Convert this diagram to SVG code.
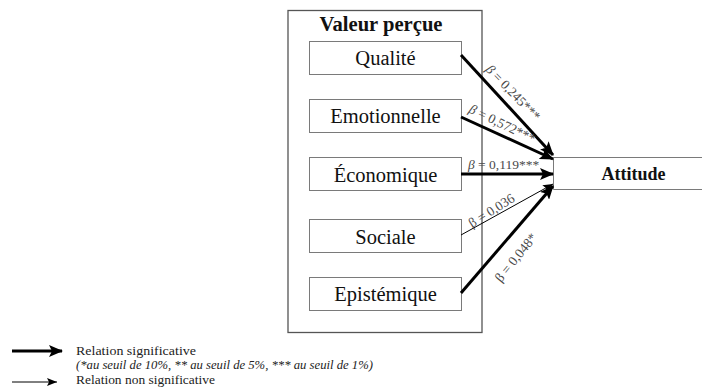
<svg xmlns="http://www.w3.org/2000/svg" width="702" height="387" viewBox="0 0 702 387">
<style>
.box{fill:#fff;stroke:#7a7a7a;stroke-width:1}
.lbl{font-size:20.5px;fill:#111;text-anchor:middle}
.b{font-size:13.5px;fill:#4a4a4a}
.leg{font-size:13px;fill:#222}
.thick{stroke:#000;stroke-width:3;fill:none}
.thin{stroke:#000;stroke-width:1;fill:none}
</style>
<defs>
<marker id="ah" markerUnits="userSpaceOnUse" markerWidth="14" markerHeight="12" refX="13" refY="6" orient="auto"><path d="M0,0 L14,6 L0,12 L3,6 Z" fill="#000"/></marker>
<marker id="ahs" markerUnits="userSpaceOnUse" markerWidth="10" markerHeight="8" refX="10" refY="4" orient="auto"><path d="M0,0 L10,4 L0,8 L2,4 Z" fill="#000"/></marker>
</defs>
<g font-family="'Liberation Serif', 'Times New Roman', Tinos, 'DejaVu Serif', serif">
<g id="valeur">
<rect x="288" y="10.5" width="194" height="322" fill="#fff" stroke="#555" stroke-width="1.3"/>
<text x="381" y="31" class="lbl" font-weight="bold" textLength="123" lengthAdjust="spacingAndGlyphs">Valeur perçue</text>
</g>
<g id="qualite"><rect class="box" x="309.5" y="41.5" width="152" height="33"/><text x="385.5" y="65" class="lbl">Qualité</text></g>
<g id="emotionnelle"><rect class="box" x="309.5" y="99.5" width="152" height="33"/><text x="385.5" y="123" class="lbl">Emotionnelle</text></g>
<g id="economique"><rect class="box" x="309.5" y="157.5" width="152" height="33"/><text x="385.5" y="182" class="lbl">Économique</text></g>
<g id="sociale"><rect class="box" x="309.5" y="219.5" width="152" height="33"/><text x="385.5" y="244" class="lbl">Sociale</text></g>
<g id="epistemique"><rect class="box" x="309.5" y="277.5" width="152" height="33"/><text x="385.5" y="301" class="lbl">Epistémique</text></g>
<g id="attitude"><path d="M703,157.5 H553.5 V189.5 H703" fill="#fff" stroke="#7a7a7a" stroke-width="1"/><text x="633.5" y="180" class="lbl" font-weight="bold" style="font-size:18px">Attitude</text></g>
<g id="connectors">
<line class="thick" x1="461" y1="55" x2="553" y2="155" marker-end="url(#ah)"/>
<line class="thick" x1="461" y1="117" x2="553" y2="159" marker-end="url(#ah)"/>
<line class="thick" x1="461" y1="174" x2="553" y2="174" marker-end="url(#ah)"/>
<line class="thin" x1="461" y1="235" x2="553" y2="184" marker-end="url(#ahs)"/>
<line class="thick" x1="461" y1="293" x2="553" y2="186" marker-end="url(#ah)"/>
<text class="b" transform="translate(485,70) rotate(46)"><tspan font-style="italic">β</tspan> = 0,245***</text>
<text class="b" transform="translate(468,112) rotate(26)"><tspan font-style="italic">β</tspan> = 0,572***</text>
<text class="b" x="468" y="169"><tspan font-style="italic">β</tspan> = 0,119***</text>
<text class="b" transform="translate(472,228) rotate(-32)">β = 0,036</text>
<text class="b" transform="translate(501,283) rotate(-51)">β = 0,048*</text>
</g>
<g id="legend">
<line class="thick" x1="12" y1="351" x2="62" y2="351" marker-end="url(#ah)"/>
<line class="thin" x1="12" y1="382" x2="57" y2="382" marker-end="url(#ahs)"/>
<text class="leg" x="76" y="355" textLength="120" lengthAdjust="spacingAndGlyphs">Relation significative</text>
<text class="leg" x="76" y="369" font-style="italic" textLength="297" lengthAdjust="spacingAndGlyphs">(*au seuil de 10%, ** au seuil de 5%, *** au seuil de 1%)</text>
<text class="leg" x="76" y="384" textLength="139" lengthAdjust="spacingAndGlyphs">Relation non significative</text>
</g>
</g>
</svg>
